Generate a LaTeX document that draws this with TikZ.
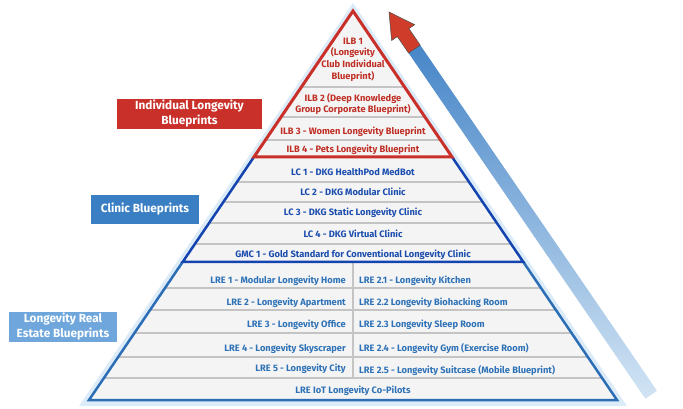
\documentclass[tikz,border=0pt]{standalone}
\usepackage{fontspec}
\setmainfont{Fira Sans}
\usepackage{tikz}
\usetikzlibrary{arrows.meta}
\usetikzlibrary{shapes,arrows}
\usetikzlibrary{calc}

\definecolor{ilbred}{HTML}{C9302A}
\definecolor{ilbtxt}{HTML}{BF2F26}
\definecolor{lcblue}{HTML}{1444B0}
\definecolor{lctxt}{HTML}{1B4DAE}
\definecolor{lreblue}{HTML}{2C6EB6}
\definecolor{lretxt}{HTML}{2E72B7}
\definecolor{halo}{HTML}{DCEBF8}
\definecolor{rowfill}{HTML}{F4F4F4}
\definecolor{sepgray}{HTML}{C4C4C4}
\definecolor{lcbox}{HTML}{3A7FC4}
\definecolor{lrebox}{HTML}{6FA7DC}
\definecolor{arrowtop}{HTML}{4786C8}
\definecolor{arrowbot}{HTML}{D2E4F4}
\definecolor{headred}{HTML}{CF3D2A}

\tikzset{
  rowtxt/.style={font=\bfseries\fontsize{9.3}{11.7}\selectfont, align=center, inner sep=0pt},
  lbl/.style={font=\bfseries\fontsize{11.8}{15}\selectfont, text=white, align=center, inner sep=0pt, minimum height=30pt},
  sep/.style={sepgray, line width=1.5pt}
}

\begin{document}
\begin{tikzpicture}[x=1pt,y=-1pt]
\useasboundingbox (0,0) rectangle (683,409);

\coordinate (T) at (353,11);
\coordinate (BL) at (89,400);
\coordinate (BR) at (617,400);
\coordinate (RL) at ($(T)!0.3753!(BL)$);
\coordinate (RR) at ($(T)!0.3753!(BR)$);
\coordinate (CL) at ($(T)!0.6452!(BL)$);
\coordinate (CR) at ($(T)!0.6452!(BR)$);

\fill[halo] (353,3) -- (79,406) -- (627,406) -- cycle;
\fill[rowfill] (T) -- (BL) -- (BR) -- cycle;
\begin{scope}
\clip (T) -- (BL) -- (BR) -- cycle;
\draw[sep] (0,87) -- (683,87) (0,117) -- (683,117) (0,140) -- (683,140)
  (0,182) -- (683,182) (0,202) -- (683,202) (0,223) -- (683,223) (0,244) -- (683,244)
  (0,288) -- (683,288) (0,310) -- (683,310) (0,333) -- (683,333) (0,357) -- (683,357) (0,378) -- (683,378);
\draw[sep] (353,263) -- (353,378);
\end{scope}

\draw[lreblue, line width=2.5pt, line join=miter] (CL) -- (BL) -- (BR) -- (CR);
\draw[lcblue, line width=2.5pt, line join=miter] (RL) -- (CL) -- (CR) -- (RR);
\draw[ilbred, line width=3pt, line join=miter] (T) -- (RL) -- (RR) -- cycle;

\node[rowtxt, text=ilbtxt] (ILB1) at (353,59.5) {ILB 1\\(Longevity\\Club Individual\\Blueprint)};
\node[rowtxt, text=ilbtxt] (ILB2) at (353,104) {ILB 2 (Deep Knowledge\\Group Corporate Blueprint)};
\node[rowtxt, text=ilbtxt] (ILB3) at (353,131.5) {ILB 3 - Women Longevity Blueprint};
\node[rowtxt, text=ilbtxt] (ILB4) at (353,150) {ILB 4 - Pets Longevity Blueprint};

\node[rowtxt, text=lctxt] (LC1) at (353,172) {LC 1 - DKG HealthPod MedBot};
\node[rowtxt, text=lctxt] (LC2) at (353,192) {LC 2 - DKG Modular Clinic};
\node[rowtxt, text=lctxt] (LC3) at (353,212.5) {LC 3 - DKG Static Longevity Clinic};
\node[rowtxt, text=lctxt] (LC4) at (353,234) {LC 4 - DKG Virtual Clinic};
\node[rowtxt, text=lctxt] (GMC1) at (353,255) {GMC 1 - Gold Standard for Conventional Longevity Clinic};

\node[rowtxt, text=lretxt, anchor=east] (LRE1) at (346,281) {LRE 1 - Modular Longevity Home};
\node[rowtxt, text=lretxt, anchor=east] (LRE2) at (346,303) {LRE 2 - Longevity Apartment};
\node[rowtxt, text=lretxt, anchor=east] (LRE3) at (346,324.5) {LRE 3 - Longevity Office};
\node[rowtxt, text=lretxt, anchor=east] (LRE4) at (346,349) {LRE 4 - Longevity Skyscraper};
\node[rowtxt, text=lretxt, anchor=east] (LRE5) at (346,369) {LRE 5 - Longevity City};
\node[rowtxt, text=lretxt, anchor=west] (LRE21) at (359,281) {LRE 2.1 - Longevity Kitchen};
\node[rowtxt, text=lretxt, anchor=west] (LRE22) at (359,303) {LRE 2.2 Longevity Biohacking Room};
\node[rowtxt, text=lretxt, anchor=west] (LRE23) at (359,325) {LRE 2.3 Longevity Sleep Room};
\node[rowtxt, text=lretxt, anchor=west] (LRE24) at (359,349) {LRE 2.4 - Longevity Gym (Exercise Room)};
\node[rowtxt, text=lretxt, anchor=west] (LRE25) at (359,371) {LRE 2.5 - Longevity Suitcase (Mobile Blueprint)};
\node[rowtxt, text=lretxt] (IOT) at (353,391) {LRE IoT Longevity Co-Pilots};

\node[lbl, fill=ilbred, minimum width=145pt] (ILB) at (189.5,114) {Individual Longevity\\Blueprints};
\node[lbl, fill=lcbox, minimum width=108pt, minimum height=29pt] (LC) at (145,209.5) {Clinic Blueprints};
\node[lbl, fill=lrebox, minimum width=108pt] (LRE) at (63,327) {Longevity Real\\Estate Blueprints};

\shade[top color=arrowtop, bottom color=arrowbot] (408.6,53.1) -- (645.4,398.8) -- (657,390.8) -- (420.2,45.1) -- cycle;
\draw[fill=headred, draw=black!70, line width=0.5pt, line join=miter] (389,12) -- (414.7,24.7) -- (408.9,28.6) -- (420.2,45.1) -- (408.6,53.1) -- (397.3,36.6) -- (391.6,40.5) -- cycle;
\end{tikzpicture}
\end{document}
